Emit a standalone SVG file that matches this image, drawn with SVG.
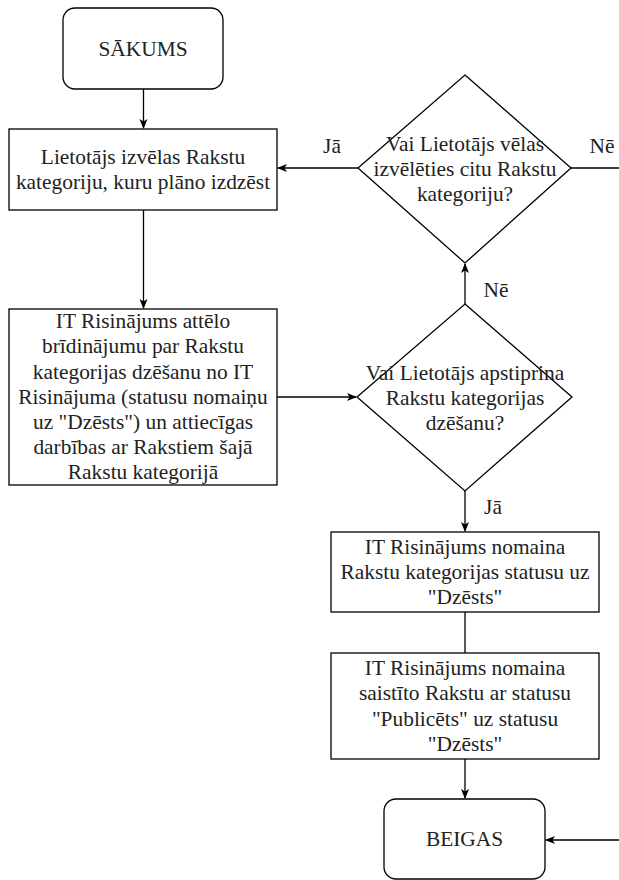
<svg xmlns="http://www.w3.org/2000/svg" width="619" height="880" viewBox="0 0 619 880">
<style>
.n{fill:#fff;stroke:#000;stroke-width:1.3}
.t{font-family:'Liberation Serif','DejaVu Serif',serif;font-size:21.4px;fill:#222;text-anchor:middle}
.c{fill:none;stroke:#000;stroke-width:1.3}
</style>
<defs>
<marker id="ah" markerWidth="10" markerHeight="10" refX="9" refY="5" orient="auto" markerUnits="userSpaceOnUse">
<path d="M0,1 L10,5 L0,9 L2.5,5 Z" fill="#000"/>
</marker>
</defs>
<rect width="619" height="880" fill="#fff"/>
<g id="connectors">
<line class="c" x1="143.5" y1="89" x2="143.5" y2="128" marker-end="url(#ah)"/>
<line class="c" x1="143.5" y1="210" x2="143.5" y2="308" marker-end="url(#ah)"/>
<line class="c" x1="277" y1="397" x2="356" y2="397" marker-end="url(#ah)"/>
<line class="c" x1="465" y1="304" x2="465" y2="264" marker-end="url(#ah)"/>
<line class="c" x1="358" y1="168" x2="278" y2="168" marker-end="url(#ah)"/>
<line class="c" x1="571" y1="168" x2="619" y2="168"/>
<line class="c" x1="465" y1="491" x2="465" y2="531" marker-end="url(#ah)"/>
<line class="c" x1="465" y1="612" x2="465" y2="653"/>
<line class="c" x1="465" y1="759" x2="465" y2="798" marker-end="url(#ah)"/>
<line class="c" x1="619" y1="840" x2="546" y2="840" marker-end="url(#ah)"/>
<text class="t" x="332" y="153">Jā</text>
<text class="t" x="602" y="153">Nē</text>
<text class="t" x="496" y="297">Nē</text>
<text class="t" x="493" y="514">Jā</text>
</g>
<g id="start">
<rect class="n" x="63" y="8" width="160" height="81" rx="12"/>
<text class="t" x="143" y="56">SĀKUMS</text>
</g>
<g id="select">
<rect class="n" x="9" y="129" width="268" height="81"/>
<text class="t" x="143" y="164">Lietotājs izvēlas Rakstu</text>
<text class="t" x="143" y="189">kategoriju, kuru plāno izdzēst</text>
</g>
<g id="again">
<polygon class="n" points="465,75 571,168 465,263 358,168"/>
<text class="t" x="465" y="151">Vai Lietotājs vēlas</text>
<text class="t" x="465" y="176">izvēlēties citu Rakstu</text>
<text class="t" x="465" y="201">kategoriju?</text>
</g>
<g id="warning">
<rect class="n" x="9" y="309" width="268" height="176"/>
<text class="t" x="143" y="328">IT Risinājums attēlo</text>
<text class="t" x="143" y="353">brīdinājumu par Rakstu</text>
<text class="t" x="143" y="379">kategorijas dzēšanu no IT</text>
<text class="t" x="143" y="404">Risinājuma (statusu nomaiņu</text>
<text class="t" x="143" y="429">uz "Dzēsts") un attiecīgas</text>
<text class="t" x="143" y="454">darbības ar Rakstiem šajā</text>
<text class="t" x="143" y="479">Rakstu kategorijā</text>
</g>
<g id="confirm">
<polygon class="n" points="465,304 572,397 465,491 357,397"/>
<text class="t" x="465" y="380">Vai Lietotājs apstiprina</text>
<text class="t" x="465" y="405">Rakstu kategorijas</text>
<text class="t" x="465" y="430">dzēšanu?</text>
</g>
<g id="setcat">
<rect class="n" x="331" y="532" width="268" height="80"/>
<text class="t" x="465" y="554">IT Risinājums nomaina</text>
<text class="t" x="465" y="579">Rakstu kategorijas statusu uz</text>
<text class="t" x="465" y="604">"Dzēsts"</text>
</g>
<g id="setposts">
<rect class="n" x="331" y="653" width="268" height="106"/>
<text class="t" x="465" y="675">IT Risinājums nomaina</text>
<text class="t" x="465" y="700">saistīto Rakstu ar statusu</text>
<text class="t" x="465" y="726">"Publicēts" uz statusu</text>
<text class="t" x="465" y="751">"Dzēsts"</text>
</g>
<g id="end">
<rect class="n" x="384" y="799" width="161" height="80" rx="12"/>
<text class="t" x="464.5" y="846">BEIGAS</text>
</g>
</svg>
